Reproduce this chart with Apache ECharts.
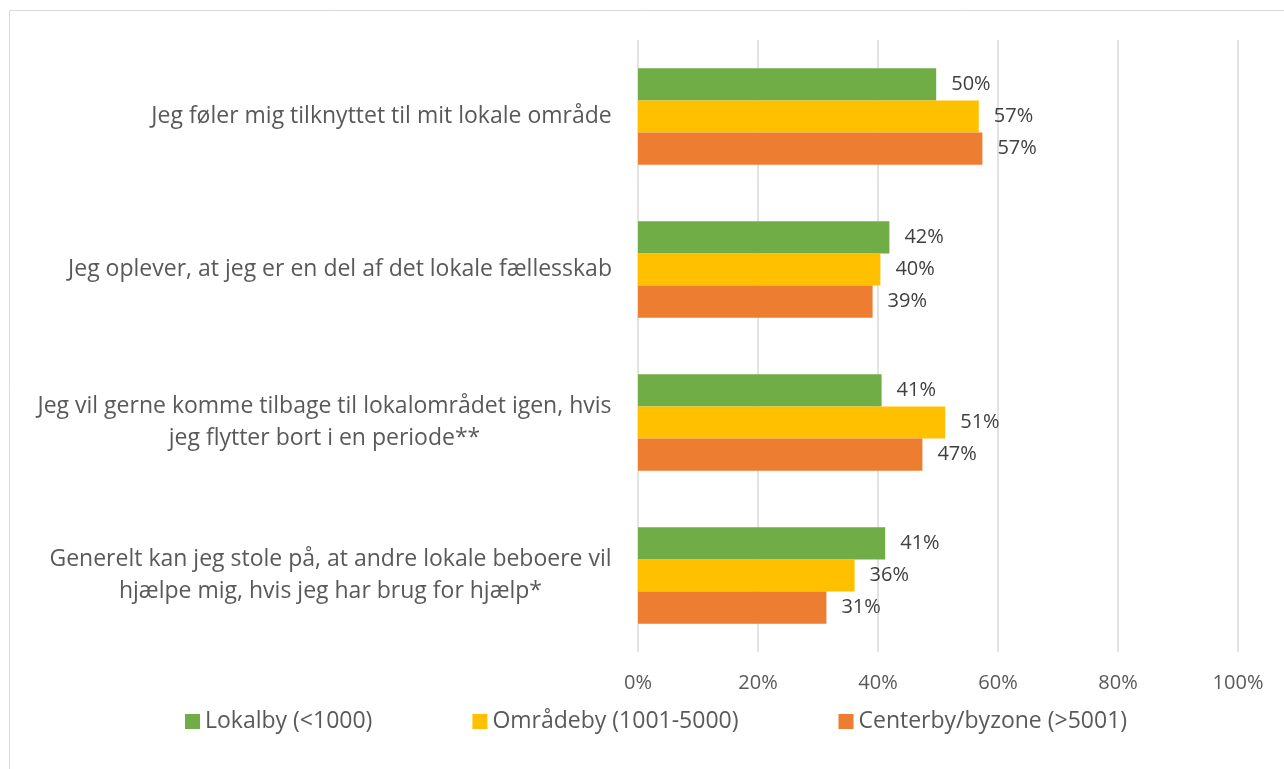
<!DOCTYPE html>
<html>
<head>
<meta charset="utf-8">
<script src="https://cdn.jsdelivr.net/npm/echarts@6/dist/echarts.min.js"></script>
<style>
  html, body { margin: 0; padding: 0; background: #fff; }
  #chart { width: 1284px; height: 769px; }
</style>
</head>
<body>
<div id="chart"></div>
<script>
// statements, top to bottom (each item is one line of the label)
const categories = [
  ['Jeg føler mig tilknyttet til mit lokale område'],
  ['Jeg oplever, at jeg er en del af det lokale fællesskab'],
  ['Jeg vil gerne komme tilbage til lokalområdet igen, hvis', 'jeg flytter bort i en periode**'],
  ['Generelt kan jeg stole på, at andre lokale beboere vil', 'hjælpe mig, hvis jeg har brug for hjælp*']
];
const seriesNames = ['Lokalby (<1000)', 'Områdeby (1001-5000)', 'Centerby/byzone (>5001)'];
const lokalby = [49.7, 41.9, 40.6, 41.2];
const omraadeby = [56.8, 40.4, 51.2, 36.1];
const centerby = [57.4, 39.1, 47.4, 31.4];
const colors = ['#70ad47', '#ffc000', '#ed7d31'];
const xTicks = [0, 20, 40, 60, 80, 100];

const FONT = '"Open Sans", "Liberation Sans", sans-serif';
const catSize = 23;
const valSize = 20;

// measure widest line of each label so multi-line text can be centred in its block
const ctx = document.createElement('canvas').getContext('2d');
ctx.font = catSize + 'px ' + FONT;
const rich = {};
categories.forEach((lines, i) => {
  const w = Math.max(...lines.map(l => ctx.measureText(l).width));
  rich['c' + i] = {
    width: Math.ceil(w),
    align: 'center',
    fontSize: catSize,
    lineHeight: 32,
    color: '#595959',
    fontFamily: FONT
  };
});

const chart = echarts.init(document.getElementById('chart'));

const makeSeries = (name, data, color) => ({
  name: name,
  type: 'bar',
  data: data,
  barGap: '0%',
  barCategoryGap: '37%',
  itemStyle: { color: color },
  label: {
    show: true,
    position: 'right',
    distance: 15,
    formatter: p => Math.round(p.value) + '%',
    color: '#404040',
    fontSize: valSize,
    fontFamily: FONT
  }
});

chart.setOption({
  animation: false,
  textStyle: { fontFamily: FONT },
  graphic: [{
    type: 'rect',
    shape: { x: 9.5, y: 10.5, width: 1400, height: 900 },
    style: { fill: 'none', stroke: '#d9d9d9', lineWidth: 1 },
    silent: true
  }],
  grid: { left: 638, right: 46, top: 40, bottom: 117 },
  legend: {
    left: 180,
    top: 705,
    itemWidth: 15,
    itemHeight: 15,
    itemGap: 100,
    icon: 'rect',
    textStyle: { color: '#595959', fontSize: catSize, fontFamily: FONT },
    data: seriesNames
  },
  xAxis: {
    type: 'value',
    min: 0,
    max: 100,
    interval: 20,
    axisLine: { show: false },
    axisTick: { show: false },
    splitLine: { lineStyle: { color: '#d9d9d9', width: 1.5 } },
    axisLabel: {
      margin: 21,
      color: '#595959',
      fontSize: valSize,
      fontFamily: FONT,
      formatter: v => xTicks.includes(v) ? v + '%' : ''
    }
  },
  yAxis: {
    type: 'category',
    inverse: true,
    data: categories.map(l => l.join('\n')),
    axisLine: { show: false },
    axisTick: { show: false },
    axisLabel: {
      margin: 26,
      formatter: (v, i) => v.split('\n').map(l => '{c' + i + '|' + l + '}').join('\n'),
      rich: rich
    }
  },
  series: [
    makeSeries(seriesNames[0], lokalby, colors[0]),
    makeSeries(seriesNames[1], omraadeby, colors[1]),
    makeSeries(seriesNames[2], centerby, colors[2])
  ]
});
</script>
</body>
</html>
